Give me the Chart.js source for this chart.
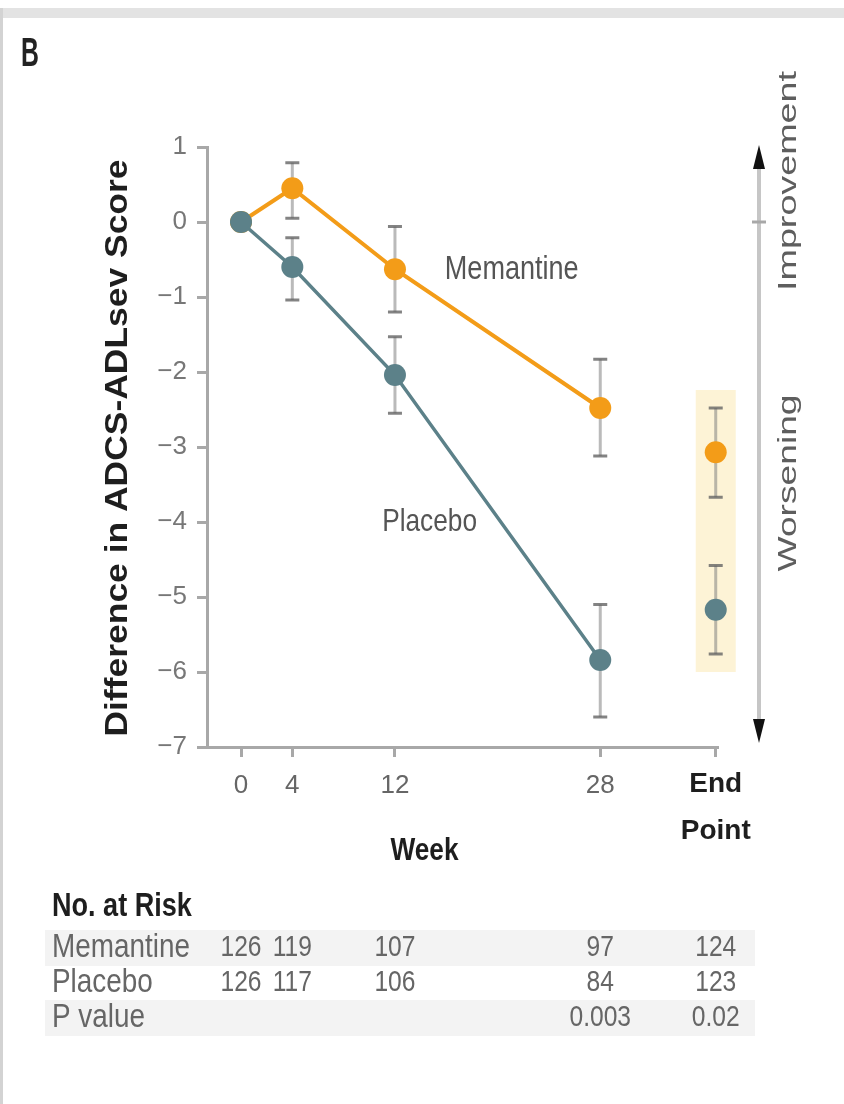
<!DOCTYPE html>
<html>
<head>
<meta charset="utf-8">
<script src="https://cdn.jsdelivr.net/npm/chart.js@4.4.1/dist/chart.umd.min.js"></script>
<style>
  html, body { margin: 0; padding: 0; background: #fff; }
  #frame { position: relative; width: 844px; height: 1104px; overflow: hidden; }
  #topband { position: absolute; left: 0; top: 8px; width: 844px; height: 10px; background: #e3e3e3; }
  #leftline { position: absolute; left: 0; top: 8px; width: 3px; height: 1096px; background: #d3d3d3; }
  #c { position: absolute; left: 0; top: 0; }
</style>
</head>
<body>
<div id="frame">
  <div id="topband"></div>
  <div id="leftline"></div>
  <canvas id="c" width="844" height="1104"></canvas>
</div>
<script>
// Data
const END_X = 37;                       // where the "End Point" column sits on the week axis
const weeks = [0, 4, 12, 28];
const xTickValues = [0, 4, 12, 28, END_X];
const yTickMin = -7;
const yTickMax = 1;

const memantineMean = [0, 0.45, -0.63, -2.48];
const memantineLow  = [null, 0.05, -1.2, -3.12];
const memantineHigh = [null, 0.79, -0.06, -1.83];
const placeboMean = [0, -0.6, -2.04, -5.84];
const placeboLow  = [null, -1.04, -2.55, -6.6];
const placeboHigh = [null, -0.21, -1.53, -5.1];

const memantineEnd = [-3.07];
const memantineEndLow = [-3.67];
const memantineEndHigh = [-2.48];
const placeboEnd = [-5.17];
const placeboEndLow = [-5.76];
const placeboEndHigh = [-4.58];

const riskLabels = ['Memantine', 'Placebo', 'P value'];
const memantineAtRisk = ['126', '119', '107', '97', '124'];
const placeboAtRisk = ['126', '117', '106', '84', '123'];
const pValues = ['', '', '', '0.003', '0.02'];

const ORANGE = '#f39c18';
const TEAL = '#5c8189';
const FONT = '"Liberation Sans", Arial, sans-serif';
const SX = 0.82;   // the figure is squeezed sideways, so its text is too

function pts(xs, ys) {
  return xs.map((x, i) => ({ x: x, y: ys[i] }));
}

// text helper: optional rotation, fixed length or horizontal squeeze
function text(ctx, str, x, y, opts) {
  ctx.save();
  ctx.font = opts.font;
  ctx.fillStyle = opts.color || '#555';
  ctx.textAlign = opts.align || 'center';
  ctx.textBaseline = 'middle';
  ctx.translate(x, y);
  if (opts.rotate) ctx.rotate(-Math.PI / 2);
  if (opts.length) {
    const w = ctx.measureText(str).width;
    ctx.scale(opts.length / w, 1);
  } else if (opts.sx) {
    ctx.scale(opts.sx, 1);
  }
  ctx.fillText(str, 0, 0);
  ctx.restore();
}

const errorBars = {
  id: 'errorBars',
  beforeDatasetsDraw(chart) {
    const { ctx, scales: { x, y } } = chart;

    // yellow band behind the end point
    const cx = x.getPixelForValue(END_X);
    const top = y.getPixelForValue(memantineEndHigh[0]) - 18;
    const bottom = y.getPixelForValue(placeboEndLow[0]) + 18;
    ctx.save();
    ctx.fillStyle = '#fdf3d6';
    ctx.fillRect(cx - 20, top, 40, bottom - top);

    chart.data.datasets.forEach(ds => {
      if (!ds.errLow) return;
      ds.data.forEach((p, i) => {
        if (ds.errLow[i] == null) return;
        const px = x.getPixelForValue(p.x);
        const lo = y.getPixelForValue(ds.errLow[i]);
        const hi = y.getPixelForValue(ds.errHigh[i]);
        ctx.strokeStyle = 'rgba(130,130,130,0.55)';
        ctx.lineWidth = 3;
        ctx.beginPath();
        ctx.moveTo(px, hi);
        ctx.lineTo(px, lo);
        ctx.stroke();
        ctx.strokeStyle = 'rgba(100,100,100,0.8)';
        ctx.beginPath();
        ctx.moveTo(px - 7, hi);
        ctx.lineTo(px + 7, hi);
        ctx.moveTo(px - 7, lo);
        ctx.lineTo(px + 7, lo);
        ctx.stroke();
      });
    });
    ctx.restore();
  }
};

const decorations = {
  id: 'decorations',
  afterDraw(chart) {
    const { ctx, chartArea, scales: { x, y } } = chart;

    text(ctx, 'B', 30, 55, { font: 'bold 40px ' + FONT, color: '#222', sx: 0.62 });

    // y axis title
    text(ctx, 'Difference in ADCS-ADLsev Score', chartArea.left - 89, (y.top + y.bottom) / 2 + 1,
      { font: 'bold 32px ' + FONT, color: '#1e1e1e', rotate: true, length: 577 });

    // x axis title, centred over the week columns
    text(ctx, 'Week', x.getPixelForValue(14.3), 851, { font: 'bold 32px ' + FONT, color: '#1e1e1e', sx: SX });

    // series labels
    text(ctx, 'Memantine', x.getPixelForValue(21.1), y.getPixelForValue(-0.64),
      { font: '33px ' + FONT, color: '#555', sx: SX });
    text(ctx, 'Placebo', x.getPixelForValue(14.7), y.getPixelForValue(-4.0),
      { font: '32px ' + FONT, color: '#555', sx: SX });

    // improvement / worsening arrow
    const ax = chartArea.right + 42;
    const aTop = y.getPixelForValue(yTickMax) - 2;
    const aBot = y.getPixelForValue(yTickMin) - 4;
    ctx.save();
    ctx.strokeStyle = '#c6c6c6';
    ctx.lineWidth = 4;
    ctx.beginPath();
    ctx.moveTo(ax, aTop + 10);
    ctx.lineTo(ax, aBot - 10);
    ctx.stroke();
    ctx.strokeStyle = '#a8a8a8';
    ctx.lineWidth = 3;
    ctx.beginPath();
    ctx.moveTo(ax - 7, y.getPixelForValue(0));
    ctx.lineTo(ax + 7, y.getPixelForValue(0));
    ctx.stroke();
    ctx.fillStyle = '#111';
    ctx.beginPath();
    ctx.moveTo(ax, aTop);
    ctx.lineTo(ax + 6, aTop + 24);
    ctx.lineTo(ax - 6, aTop + 24);
    ctx.closePath();
    ctx.fill();
    ctx.beginPath();
    ctx.moveTo(ax, aBot);
    ctx.lineTo(ax + 6, aBot - 24);
    ctx.lineTo(ax - 6, aBot - 24);
    ctx.closePath();
    ctx.fill();
    ctx.restore();

    text(ctx, 'Improvement', ax + 30, 181, { font: '26px ' + FONT, color: '#5e5e5e', rotate: true, length: 220 });
    text(ctx, 'Worsening', ax + 30, 483, { font: '26px ' + FONT, color: '#5e5e5e', rotate: true, length: 177 });

    // number at risk table
    const rowY = [948, 983, 1018];
    ctx.save();
    ctx.fillStyle = '#f3f3f3';
    ctx.fillRect(45, rowY[0] - 18, 710, 36);
    ctx.fillRect(45, rowY[2] - 18, 710, 36);
    ctx.restore();
    text(ctx, 'No. at Risk', 52, 907, { font: 'bold 33px ' + FONT, color: '#1e1e1e', align: 'left', sx: SX });
    const rows = [memantineAtRisk, placeboAtRisk, pValues];
    rows.forEach((vals, r) => {
      text(ctx, riskLabels[r], 52, rowY[r], { font: '34px ' + FONT, color: '#666', align: 'left', sx: SX });
      vals.forEach((v, i) => {
        if (!v) return;
        text(ctx, v, x.getPixelForValue(xTickValues[i]), rowY[r], { font: '30px ' + FONT, color: '#666', sx: SX });
      });
    });
  }
};

const isEnd = c => c.tick && c.tick.value === END_X;

new Chart(document.getElementById('c'), {
  type: 'scatter',
  data: {
    datasets: [
      {
        label: 'Placebo',
        data: pts(weeks, placeboMean),
        errLow: placeboLow, errHigh: placeboHigh,
        showLine: true, borderColor: TEAL, borderWidth: 3.5, clip: false,
        pointRadius: 11, pointBackgroundColor: TEAL, pointBorderWidth: 0
      },
      {
        label: 'Memantine',
        data: pts(weeks, memantineMean),
        errLow: memantineLow, errHigh: memantineHigh,
        showLine: true, borderColor: ORANGE, borderWidth: 4, clip: false,
        pointRadius: 11, pointBackgroundColor: ORANGE, pointBorderWidth: 0
      },
      {
        label: 'Placebo end point',
        data: pts([END_X], placeboEnd),
        errLow: placeboEndLow, errHigh: placeboEndHigh,
        showLine: false, clip: false,
        pointRadius: 11, pointBackgroundColor: TEAL, pointBorderWidth: 0
      },
      {
        label: 'Memantine end point',
        data: pts([END_X], memantineEnd),
        errLow: memantineEndLow, errHigh: memantineEndHigh,
        showLine: false, clip: false,
        pointRadius: 11, pointBackgroundColor: ORANGE, pointBorderWidth: 0
      }
    ]
  },
  options: {
    responsive: false,
    animation: false,
    devicePixelRatio: 1,
    layout: { padding: { left: 94, right: 127, top: 147, bottom: 227 } },
    plugins: { legend: { display: false }, tooltip: { enabled: false } },
    scales: {
      x: {
        type: 'linear',
        min: -2.65,
        max: 37.1,
        afterBuildTicks(scale) { scale.ticks = xTickValues.map(v => ({ value: v })); },
        afterFit(scale) { scale.height = 130; },
        ticks: {
          autoSkip: false, maxRotation: 0, minRotation: 0, padding: 3,
          callback: v => v === END_X ? ['End', 'Point'] : String(v),
          font: c => isEnd(c)
            ? { family: FONT, size: 28, weight: 'bold', lineHeight: 1.7 }
            : { family: FONT, size: 26, lineHeight: 2.0 },
          color: c => isEnd(c) ? '#1e1e1e' : '#666'
        },
        grid: { drawOnChartArea: false, drawTicks: true, tickLength: 10, color: '#a8a8a8', lineWidth: 3 },
        border: { display: true, color: '#a8a8a8', width: 3 }
      },
      y: {
        min: yTickMin,
        max: yTickMax,
        afterFit(scale) { scale.width = 113; },
        ticks: {
          stepSize: 1, padding: 10,
          callback: v => v < 0 ? '\u2212' + Math.abs(v) : String(v),
          font: { family: FONT, size: 26 },
          color: '#777'
        },
        grid: { drawOnChartArea: false, drawTicks: true, tickLength: 10, color: '#a8a8a8', lineWidth: 3 },
        border: { display: true, color: '#a8a8a8', width: 3 }
      }
    }
  },
  plugins: [errorBars, decorations]
});
</script>
</body>
</html>
